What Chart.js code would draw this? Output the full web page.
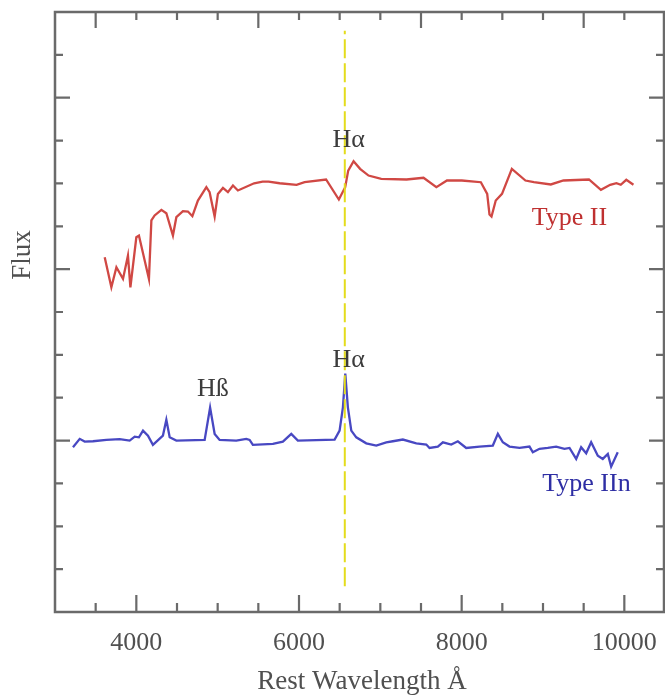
<!doctype html>
<html lang="en">
<head>
  <meta charset="utf-8" />
  <title>Type II vs Type IIn spectra</title>
  <script src="https://cdn.jsdelivr.net/npm/chart.js"></script>
  <style>
    * { box-sizing: border-box; }
    html, body { margin: 0; padding: 0; background: #fff; }
    .wrap { width: 665px; height: 697px; position: relative; }
  </style>
</head>
<body>
  <div class="wrap"><canvas id="spec" width="665" height="697"></canvas></div>

  <script>
    // Type II (red) spectrum
    const typeIIWave = [3611, 3693, 3755, 3836, 3897, 3927, 4000, 4032, 4155, 4185, 4225, 4308, 4369, 4450, 4492,
      4573, 4635, 4689, 4757, 4861, 4901, 4963, 5003, 5065, 5126, 5188, 5249, 5448, 5553, 5626, 5762, 5970,
      6069, 6333, 6490, 6568, 6605, 6671, 6751, 6855, 7011, 7322, 7531, 7689, 7819, 8002, 8236, 8314, 8342,
      8367, 8419, 8496, 8617, 8784, 8888, 9096, 9252, 9565, 9712, 9826, 9903, 9956, 10024, 10112];
    const typeIIFlux = [1.069, 0.894, 1.011, 0.943, 1.079, 0.894, 1.186, 1.196, 0.943, 1.284, 1.313, 1.346, 1.326, 1.196, 1.303,
      1.338, 1.336, 1.309, 1.400, 1.478, 1.449, 1.307, 1.439, 1.474, 1.449, 1.488, 1.459, 1.501, 1.511, 1.511, 1.501, 1.492,
      1.507, 1.523, 1.406, 1.478, 1.575, 1.630, 1.585, 1.546, 1.527, 1.523, 1.533, 1.478, 1.517, 1.517, 1.507, 1.439, 1.319,
      1.307, 1.400, 1.439, 1.585, 1.517, 1.507, 1.494, 1.517, 1.523, 1.463, 1.492, 1.501, 1.492, 1.521, 1.492];

    // Type IIn (blue) spectrum
    const typeIInWave = [3221, 3304, 3365, 3467, 3632, 3795, 3918, 3980, 4032, 4082, 4143, 4204, 4327, 4369, 4410,
      4492, 4840, 4907, 4963, 5024, 5229, 5352, 5393, 5433, 5679, 5802, 5905, 5986, 6438, 6499, 6540, 6569,
      6601, 6643, 6704, 6827, 6950, 7073, 7154, 7277, 7442, 7565, 7605, 7707, 7769, 7872, 7953, 8056, 8220,
      8383, 8445, 8506, 8588, 8711, 8834, 8875, 8957, 9059, 9162, 9264, 9326, 9408, 9469, 9531, 9592, 9674,
      9735, 9797, 9838, 9919];
    const typeIInFlux = [-0.039, 0.010, -0.006, -0.004, 0.004, 0.008, 0, 0.023, 0.019, 0.058, 0.029, -0.025, 0.029, 0.121, 0.019,
      0, 0.004, 0.193, 0.039, 0.004, 0, 0.010, 0.004, -0.025, -0.019, -0.006, 0.039, 0, 0.006, 0.058, 0.194, 0.391,
      0.194, 0.058, 0.019, -0.016, -0.029, -0.010, -0.004, 0.006, -0.016, -0.023, -0.043, -0.035, -0.010, -0.023, -0.004, -0.043, -0.035,
      -0.029, 0.039, -0.010, -0.035, -0.043, -0.035, -0.068, -0.048, -0.043, -0.035, -0.048, -0.043, -0.107, -0.039, -0.074, -0.010, -0.088,
      -0.107, -0.078, -0.152, -0.068];

    // H-alpha rest wavelength marker
    const hAlphaWave = [6563, 6563];
    const hAlphaFlux = [-0.85, 2.39];

    // axis ticks
    const xMajorTicks = [4000, 6000, 8000, 10000];
    const xMinorTicks = [3500, 4500, 5000, 5500, 6500, 7000, 7500, 8500, 9000, 9500];
    const xTopTicks = [3500, 4000, 4500, 5000, 5500, 6000, 6500, 7000, 7500, 8000, 8500, 9000, 9500, 10000];
    const xTopLong = [3500, 5500, 7500, 9500];
    const yMajorTicks = [0, 1, 2];
    const yMinorTicks = [-0.75, -0.5, -0.25, 0.25, 0.5, 0.75, 1.25, 1.5, 1.75, 2.25];

    // text annotations, in data units
    const lineLabels = [
      { text: 'H\u03b1', x: 6610, y: 1.75, color: '#3c3c3c' },
      { text: 'H\u03b1', x: 6610, y: 0.467, color: '#3c3c3c' },
      { text: 'H\u00df', x: 4940, y: 0.298, color: '#3c3c3c' },
      { text: 'Type II', x: 9325, y: 1.295, color: '#bf3030' },
      { text: 'Type IIn', x: 9534, y: -0.257, color: '#2e2ea4' }
    ];

    const toPts = (xs, ys) => xs.map((x, i) => ({ x, y: ys[i] }));
    const SERIF = '"Liberation Serif", "DejaVu Serif", serif';

    const frame = {
      id: 'frame',
      afterDraw(chart) {
        const { ctx, chartArea: a, scales: { x, y } } = chart;
        ctx.save();
        ctx.strokeStyle = '#6a6a6a';
        ctx.lineWidth = 2.5;
        ctx.strokeRect(a.left, a.top, a.right - a.left - 1, a.bottom - a.top);

        ctx.lineWidth = 2.2;
        ctx.beginPath();
        for (const v of xMajorTicks) {
          const px = x.getPixelForValue(v);
          ctx.moveTo(px, a.bottom); ctx.lineTo(px, a.bottom - 17);
        }
        for (const v of xMinorTicks) {
          const px = x.getPixelForValue(v);
          ctx.moveTo(px, a.bottom); ctx.lineTo(px, a.bottom - 9);
        }
        for (const v of xTopTicks) {
          const px = x.getPixelForValue(v);
          ctx.moveTo(px, a.top); ctx.lineTo(px, a.top + (xTopLong.includes(v) ? 16 : 8));
        }
        for (const v of yMajorTicks) {
          const py = y.getPixelForValue(v);
          ctx.moveTo(a.left, py); ctx.lineTo(a.left + 15, py);
          ctx.moveTo(a.right - 1, py); ctx.lineTo(a.right - 16, py);
        }
        for (const v of yMinorTicks) {
          const py = y.getPixelForValue(v);
          ctx.moveTo(a.left, py); ctx.lineTo(a.left + 8, py);
          ctx.moveTo(a.right - 1, py); ctx.lineTo(a.right - 9, py);
        }
        ctx.stroke();

        ctx.fillStyle = '#505050';
        ctx.textAlign = 'center';
        ctx.textBaseline = 'middle';
        ctx.font = '26px ' + SERIF;
        for (const v of xMajorTicks) {
          ctx.fillText(String(v), x.getPixelForValue(v), a.bottom + 31);
        }
        ctx.font = '27px ' + SERIF;
        ctx.fillText('Rest Wavelength \u00c5', (a.left + a.right) / 2 + 2, a.bottom + 70);

        ctx.save();
        ctx.translate(23, 255);
        ctx.rotate(-Math.PI / 2);
        ctx.fillText('Flux', 0, 0);
        ctx.restore();

        ctx.font = '26px ' + SERIF;
        for (const l of lineLabels) {
          ctx.fillStyle = l.color;
          ctx.fillText(l.text, x.getPixelForValue(l.x), y.getPixelForValue(l.y));
        }
        ctx.restore();
      }
    };

    new Chart(document.getElementById('spec'), {
      type: 'scatter',
      data: {
        datasets: [
          { label: 'H-alpha', data: toPts(hAlphaWave, hAlphaFlux), showLine: true, borderColor: '#e4dc1c',
            borderWidth: 2, borderDash: [19, 5], pointRadius: 0 },
          { label: 'Type II', data: toPts(typeIIWave, typeIIFlux), showLine: true, borderColor: '#d04844',
            borderWidth: 2.3, pointRadius: 0, tension: 0 },
          { label: 'Type IIn', data: toPts(typeIInWave, typeIInFlux), showLine: true, borderColor: '#4848c2',
            borderWidth: 2.3, pointRadius: 0, tension: 0 }
        ]
      },
      options: {
        responsive: false,
        animation: false,
        devicePixelRatio: 1,
        layout: { padding: { left: 55, right: 0, top: 12, bottom: 85 } },
        plugins: { legend: { display: false }, tooltip: { enabled: false } },
        scales: {
          x: { type: 'linear', min: 3000, max: 10500, display: false },
          y: { type: 'linear', min: -1, max: 2.5, display: false }
        }
      },
      plugins: [frame]
    });
  </script>
</body>
</html>
